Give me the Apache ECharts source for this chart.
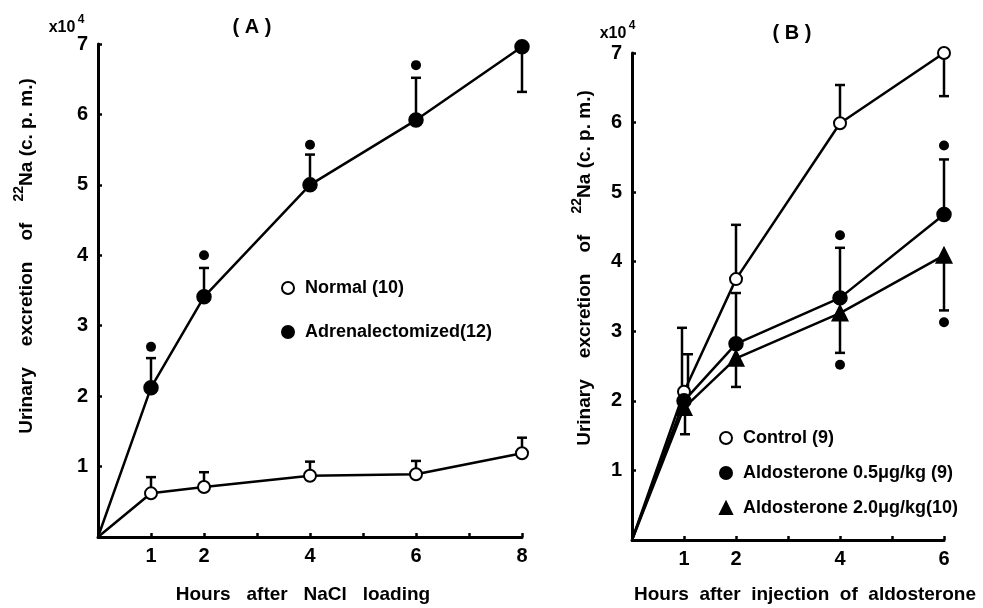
<!DOCTYPE html>
<html>
<head>
<meta charset="utf-8">
<script src="https://cdn.jsdelivr.net/npm/echarts@6/dist/echarts.min.js"></script>
<style>
	html, body { margin: 0; background: #fff; }
	#main { width: 983px; height: 608px; }
</style>
</head>
<body>
<div id="main"></div>
<script>
// panel A - hours after NaCl loading (x10^4 c.p.m.)
var hoursA = [1, 2, 4, 6, 8];
var normalA = [0.62, 0.71, 0.87, 0.89, 1.19];
var normalErrA = [0.85, 0.92, 1.07, 1.08, 1.41];
var adrenalA = [2.12, 3.41, 5.0, 5.92, 6.96];
var adrenalErrA = [2.54, 3.82, 5.43, 6.52, 6.32];
var adrenalStarA = [2.7, 4.0, 5.57, 6.7, 7.17];

// panel B - hours after injection of aldosterone
var hoursB = [1, 2, 4, 6];
var controlB = [2.13, 3.75, 5.99, 7.0];
var controlErrB = [3.05, 4.53, 6.54, 6.38];
var aldo05B = [2.0, 2.82, 3.48, 4.68];
var aldo05ErrB = [2.67, 3.55, 4.2, 5.47];
var aldo05StarB = [null, null, 4.38, 5.67];
var aldo20B = [1.9, 2.61, 3.26, 4.09];
var aldo20ErrB = [1.52, 2.2, 2.69, 3.3];
var aldo20StarB = [null, null, 2.52, 3.13];

// tick labels
var yLabels = [1, 2, 3, 4, 5, 6, 7];
var xLabelsA = [1, 2, 4, 6, 8];
var xLabelsB = [1, 2, 4, 6];

var FONT = 'Liberation Sans';
var INK = '#000';

function lineData(xs, ys) {
	var d = [{ value: [0, 0], symbol: 'none' }];
	xs.forEach(function (x, i) { d.push([x, ys[i]]); });
	return d;
}

function barData(xs, ys, ends) {
	return xs.map(function (x, i) { return [x, ys[i], ends[i]]; });
}

function starData(xs, ys) {
	var d = [];
	xs.forEach(function (x, i) {
		if (ys[i] != null) d.push([x, ys[i]]);
	});
	return d;
}

// vertical bar from mean to the end value, cap only at the far end
function makeErrorBar(dx) {
	return function (params, api) {
		var p0 = api.coord([api.value(0), api.value(1)]);
		var p1 = api.coord([api.value(0), api.value(2)]);
		// overlapping bars at the first hour are drawn slightly apart, as in the print
		var off = api.value(0) === 1 ? dx : 0;
		var x = p0[0] + off;
		var style = { stroke: INK, lineWidth: 2.5 };
		return {
			type: 'group',
			children: [
				{ type: 'line', shape: { x1: x, y1: p0[1], x2: x, y2: p1[1] }, style: style },
				{ type: 'line', shape: { x1: x - 5, y1: p1[1], x2: x + 5, y2: p1[1] }, style: style }
			]
		};
	};
}

function xAxis(idx, max, labels) {
	return {
		type: 'value', gridIndex: idx, min: 0, max: max, interval: 1,
		axisLine: { lineStyle: { color: INK, width: 3 } },
		axisTick: { inside: true, length: 4, lineStyle: { color: INK, width: 2.5 } },
		axisLabel: {
			color: INK, fontFamily: FONT, fontWeight: 'bold', fontSize: 20, margin: 9,
			formatter: function (v) { return labels.indexOf(v) >= 0 ? String(v) : ''; }
		},
		splitLine: { show: false }
	};
}

function yAxis(idx) {
	return {
		type: 'value', gridIndex: idx, min: 0, max: 7, interval: 1,
		axisLine: { show: true, lineStyle: { color: INK, width: 3 } },
		axisTick: { show: true, inside: true, length: 4, lineStyle: { color: INK, width: 2.5 } },
		axisLabel: {
			color: INK, fontFamily: FONT, fontWeight: 'bold', fontSize: 20, margin: 10,
			formatter: function (v) { return yLabels.indexOf(v) >= 0 ? String(v) : ''; }
		},
		splitLine: { show: false }
	};
}

function lineSeries(name, idx, xs, ys, symbol, size) {
	return {
		name: name, type: 'line', xAxisIndex: idx, yAxisIndex: idx,
		data: lineData(xs, ys),
		symbol: symbol, symbolSize: size,
		showAllSymbol: true,
		lineStyle: { color: INK, width: 2.5 },
		itemStyle: { color: INK, borderColor: INK, borderWidth: 2.5 },
		z: 3,
		animation: false
	};
}

function errSeries(idx, xs, ys, ends, dx) {
	return {
		type: 'custom', xAxisIndex: idx, yAxisIndex: idx,
		data: barData(xs, ys, ends),
		encode: { x: 0, y: [1, 2] },
		renderItem: makeErrorBar(dx || 0),
		z: 2,
		animation: false
	};
}

function starSeries(idx, xs, ys) {
	return {
		type: 'scatter', xAxisIndex: idx, yAxisIndex: idx,
		data: starData(xs, ys),
		symbol: 'circle', symbolSize: 10,
		itemStyle: { color: INK, opacity: 1 },
		animation: false
	};
}

var supRich = {
	sup: { fontFamily: FONT, fontWeight: 'bold', fontSize: 14, verticalAlign: 'top', lineHeight: 24, fill: INK },
	n: { fontFamily: FONT, fontWeight: 'bold', fontSize: 19, verticalAlign: 'bottom', lineHeight: 24, fill: INK }
};

function label(text, x, y, size, rotate) {
	return {
		type: 'text', x: x, y: y, rotation: rotate || 0,
		style: {
			text: text, fill: INK, fontFamily: FONT, fontWeight: 'bold', fontSize: size,
			align: 'center', verticalAlign: 'middle', rich: supRich
		}
	};
}

var legendText = { color: INK, fontFamily: FONT, fontWeight: 'bold', fontSize: 18, lineHeight: 20, padding: [0, 0, 0, 6] };

var yName = '{n|Urinary    excretion    of}    {sup|22}{n|Na (c. p. m.)}';

var chart = echarts.init(document.getElementById('main'), null, { renderer: 'canvas' });

chart.setOption({
	backgroundColor: '#fff',
	animation: false,
	grid: [
		{ left: 98, top: 44, right: 461, bottom: 71 },
		{ left: 632, top: 53, right: 39, bottom: 68 }
	],
	xAxis: [xAxis(0, 8, xLabelsA), xAxis(1, 6, xLabelsB)],
	yAxis: [yAxis(0), yAxis(1)],
	legend: [
		{
			orient: 'vertical', left: 281, top: 278, itemGap: 24, padding: 0,
			itemWidth: 12, itemHeight: 12,
			textStyle: legendText,
			data: [
				{ name: 'Normal (10)', icon: 'emptyCircle' },
				{ name: 'Adrenalectomized(12)', icon: 'circle' }
			]
		},
		{
			orient: 'vertical', left: 719, top: 428, itemGap: 15, padding: 0,
			itemWidth: 12, itemHeight: 12,
			textStyle: legendText,
			data: [
				{ name: 'Control (9)', icon: 'emptyCircle' },
				{ name: 'Aldosterone 0.5μg/kg (9)', icon: 'circle' },
				{ name: 'Aldosterone 2.0μg/kg(10)', icon: 'triangle' }
			]
		}
	],
	graphic: [
		label('( A )', 252, 27, 20),
		label('( B )', 792, 33, 20),
		label('x10', 62, 28, 16),
		label('4', 81, 20, 12),
		label('x10', 613, 34, 16),
		label('4', 632, 26, 12),
		label(yName, 24, 256, 19, Math.PI / 2),
		label(yName, 582, 268, 19, Math.PI / 2),
		label('Hours   after   NaCl   loading', 303, 595, 19),
		label('Hours  after  injection  of  aldosterone', 805, 595, 19)
	],
	series: [
		lineSeries('Normal (10)', 0, hoursA, normalA, 'emptyCircle', 12),
		lineSeries('Adrenalectomized(12)', 0, hoursA, adrenalA, 'circle', 13),
		errSeries(0, hoursA, normalA, normalErrA),
		errSeries(0, hoursA, adrenalA, adrenalErrA),
		starSeries(0, hoursA, adrenalStarA),

		lineSeries('Control (9)', 1, hoursB, controlB, 'emptyCircle', 12),
		lineSeries('Aldosterone 0.5μg/kg (9)', 1, hoursB, aldo05B, 'circle', 13),
		lineSeries('Aldosterone 2.0μg/kg(10)', 1, hoursB, aldo20B, 'triangle', 14),
		errSeries(1, hoursB, controlB, controlErrB, -2),
		errSeries(1, hoursB, aldo05B, aldo05ErrB, 4),
		errSeries(1, hoursB, aldo20B, aldo20ErrB, 1),
		starSeries(1, hoursB, aldo05StarB),
		starSeries(1, hoursB, aldo20StarB)
	]
});

window.addEventListener('resize', function () {
	chart.resize();
});
</script>
</body>
</html>
